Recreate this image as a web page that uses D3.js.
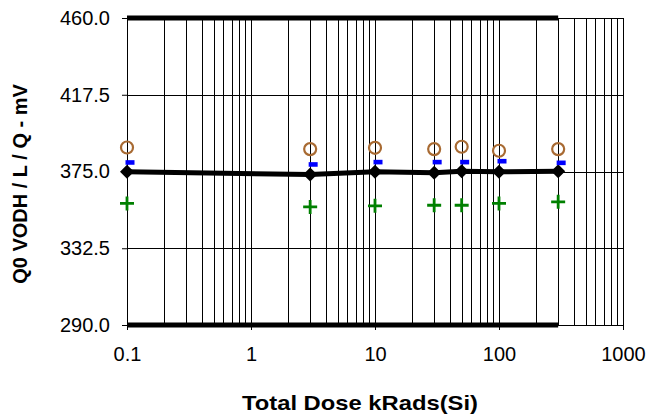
<!DOCTYPE html>
<html>
<head>
<meta charset="utf-8">
<script src="https://cdn.jsdelivr.net/npm/d3@7"></script>
<style>
  body { margin: 0; background: #fff; }
  svg text { font-family: Arial, "Liberation Sans", sans-serif; fill: #000; }
</style>
</head>
<body>
<div id="chart"></div>
<script>
// data
let doses = [0.1, 3, 10, 30, 50, 100, 300];
let vodh = [374.8, 373.3, 374.8, 374.3, 375.2, 374.8, 375.2];
let circleVals = [388.3, 387.4, 388.1, 387.4, 388.7, 386.5, 387.4];
let dashVals = [380.0, 378.9, 380.2, 380.2, 380.2, 380.7, 379.8];
let plusVals = [357.3, 355.4, 356.0, 356.3, 356.3, 357.3, 358.2];
let upperLimit = [460, 460, 460, 460, 460, 460, 460];
let lowerLimit = [290, 290, 290, 290, 290, 290, 290];
let yTicks = [290, 332.5, 375, 417.5, 460];
let xTicks = [0.1, 1, 10, 100, 1000];

let svgWidth = 662;
let svgHeight = 419;

let margin = { top: 18, right: 39, bottom: 94, left: 127 };
let width = svgWidth - margin.left - margin.right;
let height = svgHeight - margin.top - margin.bottom;

let svg = d3.select('#chart').append('svg')
  .attr('width', svgWidth)
  .attr('height', svgHeight);

let g = svg.append('g')
  .attr('transform', `translate(${margin.left}, ${margin.top})`);

let x = d3.scaleLog().domain([0.1, 1000]).range([0, width]);
let y = d3.scaleLinear().domain([290, 460]).range([height, 0]);

// minor log gridlines
let gridX = [];
for (let dec = 0.1; dec < 1000; dec *= 10) {
  for (let m = 1; m < 10; m++) gridX.push(+(dec * m).toPrecision(3));
}
gridX.push(1000);

g.append('g').selectAll('line')
  .data(gridX)
  .enter().append('line')
  .attr('x1', d => Math.round(x(d)) + 0.5)
  .attr('x2', d => Math.round(x(d)) + 0.5)
  .attr('y1', 0)
  .attr('y2', height)
  .attr('stroke', '#000')
  .attr('stroke-width', 1);

g.append('g').selectAll('line')
  .data(yTicks)
  .enter().append('line')
  .attr('x1', 0)
  .attr('x2', width)
  .attr('y1', d => Math.round(y(d)) + 0.5)
  .attr('y2', d => Math.round(y(d)) + 0.5)
  .attr('stroke', '#000')
  .attr('stroke-width', 1);

// y axis
let yAxis = g.append('g')
  .call(d3.axisLeft(y).tickValues(yTicks).tickFormat(d3.format('.1f')).tickSizeOuter(0).tickSize(5).tickPadding(12));
yAxis.select('.domain').attr('stroke', '#000');
yAxis.selectAll('text').attr('font-size', 20);

// x axis
let xAxis = g.append('g')
  .attr('transform', `translate(0, ${height})`)
  .call(d3.axisBottom(x).tickValues(xTicks).tickFormat(d => String(d)).tickSizeOuter(0).tickSize(5).tickPadding(17));
xAxis.select('.domain').remove();
xAxis.selectAll('text').attr('font-size', 20);

// limit lines
let line = d3.line()
  .x(d => x(d[0]))
  .y(d => y(d[1]));

[upperLimit, lowerLimit].forEach(vals => {
  g.append('path')
    .datum(doses.map((d, i) => [d, vals[i]]))
    .attr('d', line)
    .attr('fill', 'none')
    .attr('stroke', '#000')
    .attr('stroke-width', 5);
});

// main series
g.append('path')
  .datum(doses.map((d, i) => [d, vodh[i]]))
  .attr('d', line)
  .attr('fill', 'none')
  .attr('stroke', '#000')
  .attr('stroke-width', 5);

g.append('g').selectAll('path')
  .data(doses.map((d, i) => [d, vodh[i]]))
  .enter().append('path')
  .attr('d', d3.symbol().type(d3.symbolSquare).size(98))
  .attr('transform', d => `translate(${x(d[0])}, ${y(d[1])}) rotate(45)`)
  .attr('fill', '#000');

// open circles
g.append('g').selectAll('circle')
  .data(doses.map((d, i) => [d, circleVals[i]]))
  .enter().append('circle')
  .attr('cx', d => x(d[0]))
  .attr('cy', d => y(d[1]))
  .attr('r', 6)
  .attr('fill', 'none')
  .attr('stroke', '#a86a32')
  .attr('stroke-width', 2.2);

// blue dashes
g.append('g').selectAll('rect')
  .data(doses.map((d, i) => [d, dashVals[i]]))
  .enter().append('rect')
  .attr('x', d => x(d[0]) - 1.5)
  .attr('y', d => y(d[1]) - 2.3)
  .attr('width', 9)
  .attr('height', 4.6)
  .attr('fill', '#0000ff');

// green plus
g.append('g').selectAll('path')
  .data(doses.map((d, i) => [d, plusVals[i]]))
  .enter().append('path')
  .attr('d', d => {
    let cx = x(d[0]), cy = y(d[1]);
    return `M${cx - 7},${cy}H${cx + 7}M${cx},${cy - 7}V${cy + 7}`;
  })
  .attr('stroke', '#008000')
  .attr('stroke-width', 2.8)
  .attr('fill', 'none');

// axis titles
svg.append('text')
  .attr('x', 360)
  .attr('y', 410)
  .attr('text-anchor', 'middle')
  .attr('font-size', 21)
  .attr('font-weight', 'bold')
  .attr('textLength', 236)
  .attr('lengthAdjust', 'spacingAndGlyphs')
  .text('Total Dose kRads(Si)');

svg.append('text')
  .attr('transform', `translate(27, 184) rotate(-90)`)
  .attr('text-anchor', 'middle')
  .attr('font-size', 20)
  .attr('font-weight', 'bold')
  .text('Q0 VODH / L / Q - mV');
</script>
</body>
</html>
